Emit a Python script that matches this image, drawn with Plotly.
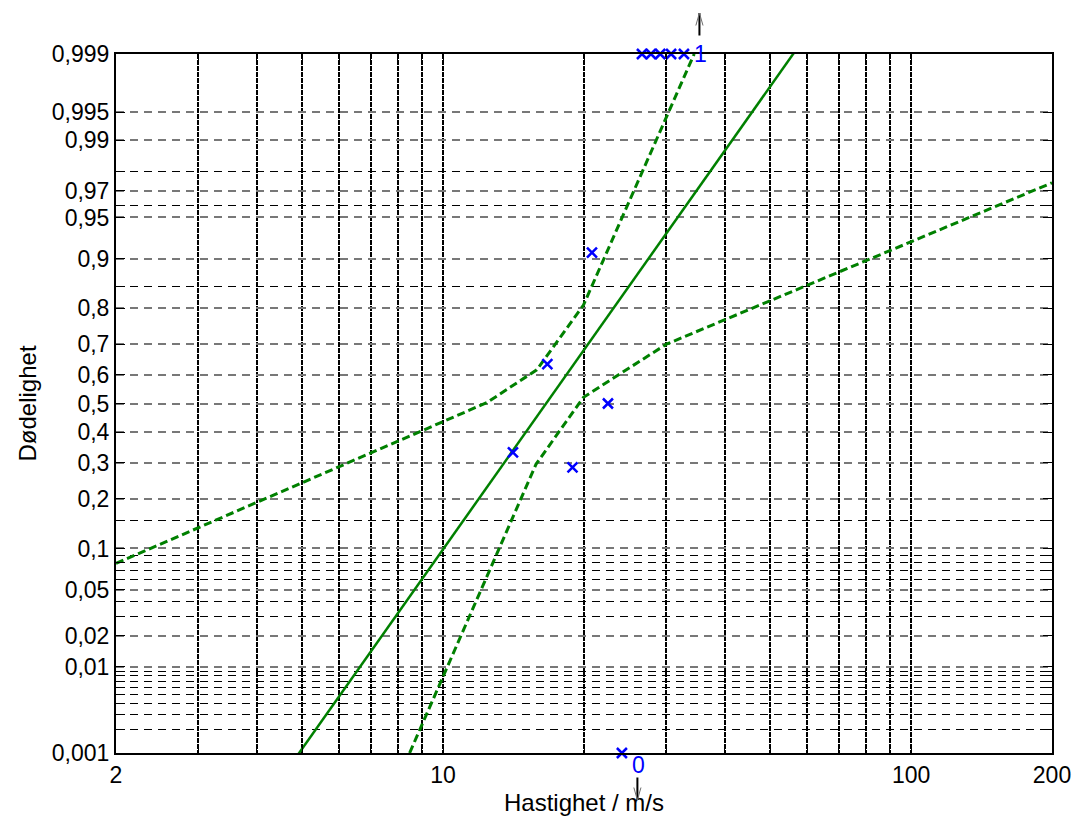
from statistics import NormalDist
import math
import plotly.graph_objects as go

# ---------------------------------------------------------------
# Data: observed mortality fraction per speed group
# ---------------------------------------------------------------
speed = [14.1, 16.7, 18.9, 20.8, 22.5, 24.1, 26.6, 27.8, 29.1, 30.7, 32.7]
mortality = [0.333, 0.636, 0.286, 0.909, 0.5, 0.0, 1.0, 1.0, 1.0, 1.0, 1.0]

# Fitted probit model: median lethal speed and slope (probits per decade)
v50 = 16.6
slope_per_decade = 5.855

# Confidence band vertices (speed, mortality)
upper_speed = [2.0, 12.4, 15.85, 19.95, 34.4]
upper_mort = [0.0787, 0.503, 0.617, 0.808, 0.999]
lower_speed = [8.48, 15.8, 19.95, 30.0, 200.0]
lower_mort = [0.001, 0.296, 0.522, 0.70, 0.9745]

# Axes
x_limits = [2, 200]
x_ticks = [2, 10, 100, 200]
x_minor = [3, 4, 5, 6, 7, 8, 9, 20, 30, 40, 50, 60, 70, 80, 90]
p_limits = [0.001, 0.999]
p_ticks = [0.001, 0.01, 0.02, 0.05, 0.1, 0.2, 0.3, 0.4, 0.5, 0.6, 0.7,
           0.8, 0.9, 0.95, 0.97, 0.99, 0.995, 0.999]
p_minor = [0.002, 0.003, 0.004, 0.005, 0.006, 0.007, 0.008, 0.009,
           0.03, 0.04, 0.06, 0.07, 0.08, 0.09, 0.15, 0.85, 0.96, 0.98]

FONT = "Liberation Sans, Arial, Helvetica, sans-serif"
GREEN = "rgb(0,128,0)"
BLUE = "rgb(0,0,255)"

nd = NormalDist()


def probit(p):
    return [nd.inv_cdf(v) for v in p]


def clip_p(p):
    return [min(max(v, p_limits[0]), p_limits[1]) for v in p]


def fit_z(x):
    return [slope_per_decade * (math.log10(v) - math.log10(v50)) for v in x]


fig = go.Figure()

# fitted probit line
fig.add_trace(go.Scatter(
    x=x_limits, y=fit_z(x_limits), mode="lines",
    line=dict(color=GREEN, width=2.5), showlegend=False, hoverinfo="skip"))

# confidence bands
for xs, ps in ((upper_speed, upper_mort), (lower_speed, lower_mort)):
    fig.add_trace(go.Scatter(
        x=xs, y=probit(ps), mode="lines",
        line=dict(color=GREEN, width=3, dash="8px,4px"),
        showlegend=False, hoverinfo="skip"))

# observations (0 and 1 are drawn on the axis limits)
fig.add_trace(go.Scatter(
    x=speed, y=probit(clip_p(mortality)), mode="markers",
    marker=dict(symbol="x-thin", size=10, line=dict(color=BLUE, width=2.5)),
    cliponaxis=False, showlegend=False))

z_lo, z_hi = probit(p_limits)

# "0" / "1" labels with arrows for out-of-range observations
for value, z_edge, direction in ((1.0, z_hi, 1), (0.0, z_lo, -1)):
    xs = [s for s, m in zip(speed, mortality) if m == value]
    if not xs:
        continue
    xl = math.log10(max(xs))
    text_shift = 0 if direction > 0 else -12
    fig.add_annotation(
        x=xl, y=z_edge, xref="x", yref="y", text=str(int(value)),
        showarrow=False, xanchor="left", yanchor="middle",
        xshift=8, yshift=text_shift,
        font=dict(family=FONT, size=23, color=BLUE))
    tip = 41 if direction > 0 else -47
    tail = 24 * direction
    # shaft
    fig.add_annotation(
        x=xl, y=z_edge, xref="x", yref="y", text="", showarrow=True,
        arrowhead=0, arrowwidth=2, arrowcolor="black",
        ax=0, ay=tail, xshift=15.5, yshift=tip)
    # open head
    for side in (-4, 4):
        fig.add_annotation(
            x=xl, y=z_edge, xref="x", yref="y", text="", showarrow=True,
            arrowhead=0, arrowwidth=1, arrowcolor="rgb(110,110,110)",
            ax=side, ay=14 * direction, xshift=15.5, yshift=tip)

fig.update_xaxes(
    type="log", range=[math.log10(x_limits[0]), math.log10(x_limits[1])],
    tickmode="array", tickvals=x_ticks, ticktext=[str(v) for v in x_ticks],
    showline=True, linecolor="black", linewidth=2, mirror="allticks",
    ticks="inside", ticklen=9, tickcolor="black", tickwidth=1,
    showgrid=True, gridcolor="black", gridwidth=2, griddash="5px,1px",
    minor=dict(tickvals=x_minor, ticks="inside", ticklen=9,
               tickcolor="black", showgrid=True, gridcolor="black",
               gridwidth=2, griddash="5px,1px"),
    tickfont=dict(family=FONT, size=23, color="black"),
    title=dict(text="Hastighet / m/s", standoff=8,
               font=dict(family=FONT, size=24, color="black")),
    zeroline=False)

fig.update_yaxes(
    range=[z_lo, z_hi],
    tickmode="array", tickvals=probit(p_ticks),
    ticktext=[str(p).replace(".", ",") for p in p_ticks],
    showline=True, linecolor="black", linewidth=2, mirror="allticks",
    ticks="inside", ticklen=9, tickcolor="black", tickwidth=1,
    showgrid=True, gridcolor="rgb(120,120,120)", gridwidth=1.5,
    griddash="8px,6px",
    minor=dict(tickvals=probit(p_minor), ticks="inside", ticklen=9,
               tickcolor="black", showgrid=True, gridcolor="black",
               gridwidth=1, griddash="8px,6px"),
    tickfont=dict(family=FONT, size=23, color="black"),
    title=dict(text="Dødelighet", standoff=8,
               font=dict(family=FONT, size=24, color="black")),
    zeroline=False)

fig.update_layout(
    width=1075, height=821,
    margin=dict(l=116, r=23, t=54, b=68, autoexpand=False),
    paper_bgcolor="white", plot_bgcolor="white",
    font=dict(family=FONT, size=23, color="black"),
    showlegend=False)

fig.write_html("out.html", config={"displayModeBar": False})
